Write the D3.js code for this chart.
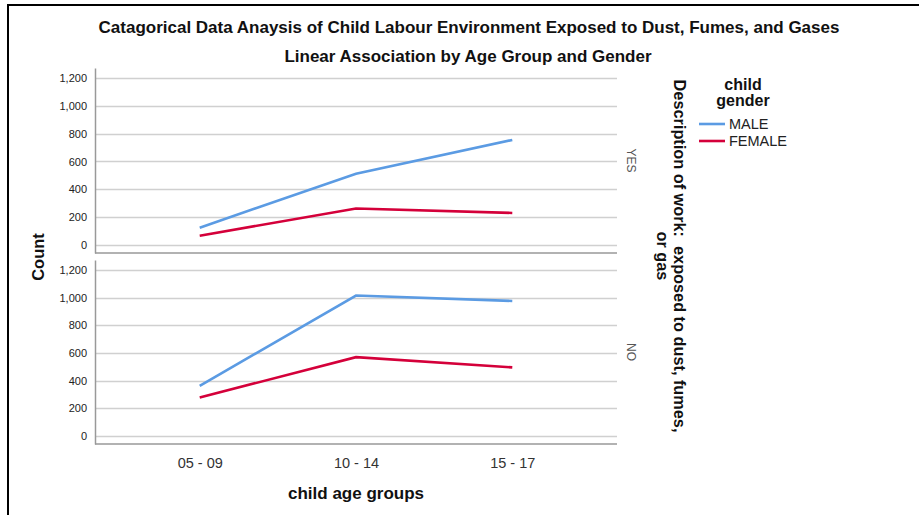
<!DOCTYPE html>
<html>
<head>
<meta charset="utf-8">
<script src="https://cdn.jsdelivr.net/npm/d3@7"></script>
<style>
  html, body { margin: 0; padding: 0; background: #fff; }
  svg { display: block; font-family: "Liberation Sans", Arial, sans-serif; }
</style>
</head>
<body>
<svg id="chart" width="919" height="515"></svg>
<script>
// ---- Data ----
const ageGroups = ["05 - 09", "10 - 14", "15 - 17"];
const panels = ["YES", "NO"];
const genders = ["MALE", "FEMALE"];
const yesMale   = [124, 512, 755];
const yesFemale = [66, 262, 230];
const noMale    = [362, 1015, 976];
const noFemale  = [278, 570, 496];
const yTicks = [0, 200, 400, 600, 800, 1000, 1200];

const seriesByPanel = {
  YES: { MALE: yesMale, FEMALE: yesFemale },
  NO:  { MALE: noMale,  FEMALE: noFemale }
};
const colors = { MALE: "#5b9be3", FEMALE: "#d4003a" };

const svg = d3.select("#chart");

// frame lines
svg.append("line").attr("x1", 8).attr("x2", 919).attr("y1", 5).attr("y2", 5)
  .attr("stroke", "#000").attr("stroke-width", 2);
svg.append("line").attr("x1", 8).attr("x2", 8).attr("y1", 4).attr("y2", 515)
  .attr("stroke", "#000").attr("stroke-width", 2);

// titles
svg.append("text").attr("x", 469).attr("y", 33).attr("text-anchor", "middle")
  .attr("font-size", 17).attr("font-weight", "bold").attr("fill", "#111")
  .text("Catagorical Data Anaysis of Child Labour Environment Exposed to Dust, Fumes, and Gases");
svg.append("text").attr("x", 468).attr("y", 62).attr("text-anchor", "middle")
  .attr("font-size", 17).attr("font-weight", "bold").attr("fill", "#111")
  .text("Linear Association by Age Group and Gender");

const left = 95, right = 617;
const x = d3.scalePoint().domain(ageGroups).range([left, right]).padding(0.67);

const panelDefs = [
  { key: "YES", top: 68, bottom: 253 },
  { key: "NO",  top: 260, bottom: 444 }
];

panelDefs.forEach(p => {
  const y = d3.scaleLinear().domain([-58, 1272]).range([p.bottom, p.top]);
  const g = svg.append("g");
  // gridlines
  g.selectAll("line.grid").data(yTicks).enter().append("line")
    .attr("x1", left).attr("x2", right)
    .attr("y1", d => Math.round(y(d)) + 0.5).attr("y2", d => Math.round(y(d)) + 0.5)
    .attr("stroke", "#d0d0d0").attr("stroke-width", 1.3);
  // y axis
  const ax = g.append("g").attr("transform", `translate(${left},0)`)
    .call(d3.axisLeft(y).tickValues(yTicks).tickSize(0).tickPadding(8).tickFormat(d3.format(",")));
  ax.select(".domain").attr("stroke", "#999").attr("stroke-width", 1.5);
  ax.selectAll("text").attr("font-size", 11).attr("fill", "#222")
    .attr("font-family", "Liberation Sans, Arial, sans-serif");
  // bottom axis line
  g.append("line").attr("x1", left).attr("x2", right)
    .attr("y1", p.bottom).attr("y2", p.bottom).attr("stroke", "#999").attr("stroke-width", 1.5);
  // lines
  const line = d3.line().x((d, i) => x(ageGroups[i])).y(d => y(d));
  genders.forEach(gd => {
    g.append("path").datum(seriesByPanel[p.key][gd])
      .attr("d", line).attr("fill", "none")
      .attr("stroke", colors[gd]).attr("stroke-width", 2.6);
  });
  // strip label
  const cy = (p.top + p.bottom) / 2;
  svg.append("text").attr("transform", `translate(627,${cy}) rotate(90)`)
    .attr("text-anchor", "middle").attr("font-size", 12).attr("fill", "#555")
    .text(p.key);
});

// x axis ticks
const xa = svg.append("g").attr("transform", `translate(0,444)`)
  .call(d3.axisBottom(x).tickSize(0).tickPadding(14));
xa.select(".domain").remove();
xa.selectAll("text").attr("font-size", 14.5).attr("fill", "#333")
  .attr("font-family", "Liberation Sans, Arial, sans-serif");

// axis titles
svg.append("text").attr("x", 356).attr("y", 499).attr("text-anchor", "middle")
  .attr("font-size", 17).attr("font-weight", "bold").attr("fill", "#111")
  .text("child age groups");
svg.append("text").attr("transform", "translate(44,257) rotate(-90)")
  .attr("text-anchor", "middle").attr("font-size", 16.5).attr("font-weight", "bold").attr("fill", "#111")
  .text("Count");

// right axis title (two lines)
const rt = svg.append("text").attr("transform", "translate(674,256) rotate(90)")
  .attr("text-anchor", "middle").attr("font-size", 16.3).attr("font-weight", "bold").attr("fill", "#111");
rt.append("tspan").attr("x", 0).attr("dy", 0).text("Description of work:\u00a0 exposed to dust, fumes,");
rt.append("tspan").attr("x", 0).attr("dy", 17).text("or gas");

// legend
const lt = svg.append("text").attr("x", 743).attr("y", 90).attr("text-anchor", "middle")
  .attr("font-size", 16).attr("font-weight", "bold").attr("fill", "#111");
lt.append("tspan").attr("x", 743).attr("dy", 0).text("child");
lt.append("tspan").attr("x", 743).attr("dy", 16).text("gender");
genders.forEach((gd, i) => {
  const ly = 124 + i * 17;
  svg.append("line").attr("x1", 699).attr("x2", 725).attr("y1", ly).attr("y2", ly)
    .attr("stroke", colors[gd]).attr("stroke-width", 2.6);
  svg.append("text").attr("x", 729).attr("y", ly + 5).attr("font-size", 14.5).attr("fill", "#222").text(gd);
});
</script>
</body>
</html>
